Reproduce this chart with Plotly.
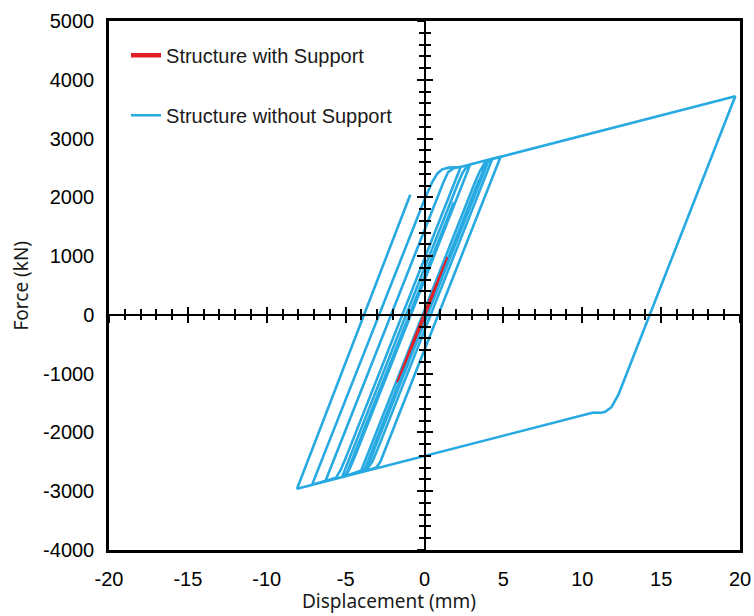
import plotly.graph_objects as go

# Force-displacement hysteresis, structure without support (mm, kN)
disp_without = [
    0.0, 1.55, -1.52,
    3.3, 3.65, 3.9, 4.08,
    -3.2, -3.5, -3.78, -4.06,
    3.2, 3.5, 3.8, 4.3,
    -3.0, -3.3, -3.6, -5.23,
    2.1, 2.4, 2.65, 2.9,
    -4.4, -4.7, -5.0,
    1.86,
    -4.5, -4.85, -5.1, -6.29,
    1.2, 1.5, 1.85, 2.3,
    -5.0, -5.3, -5.6, -7.13,
    0.06, 0.49, 0.81, 1.12, 1.54, 2.29, 4.83,
    -2.55, -2.8, -3.05, -3.84,
    3.45,
    -1.3,
    3.6, 3.9, 4.2, 19.7,
    12.3, 11.85, 11.45, 11.2, 10.7, -8.08,
    -0.9,
]
force_without = [
    0, 985, -1100,
    2176, 2400, 2570, 2641,
    -2312, -2500, -2625, -2680,
    2258, 2440, 2580, 2658,
    -2305, -2490, -2610, -2761,
    2224, 2410, 2510, 2561,
    -2400, -2590, -2745,
    1918,
    -2420, -2660, -2752, -2834,
    2258, 2430, 2495, 2520,
    -2441, -2630, -2770, -2892,
    2000, 2260, 2403, 2476, 2505, 2516, 2695,
    -2326, -2500, -2595, -2665,
    2292,
    -938,
    2380, 2575, 2645, 3720,
    -1354, -1570, -1650, -1665, -1662, -2957,
    2045,
]

# Structure with support: narrow elastic loop
disp_with = [-1.74, 0.05, 1.45, -0.05, -1.74]
force_with = [-1148, -15, 985, 15, -1148]

# Axis ticks and labels
x_ticks = [-20, -15, -10, -5, 0, 5, 10, 15, 20]
x_tick_labels = ["-20", "-15", "-10", "-5", "0", "5", "10", "15", "20"]
y_ticks = [-4000, -3000, -2000, -1000, 0, 1000, 2000, 3000, 4000, 5000]
y_tick_labels = ["-4000", "-3000", "-2000", "-1000", "0", "1000", "2000",
                 "3000", "4000", "5000"]

x_range = [-20, 20]
y_range = [-4000, 5000]

BLUE = "#27A9E1"
RED = "#E31E24"
TICK_FONT = dict(family="Liberation Sans, Arial, sans-serif", size=20, color="#000000")
TITLE_FONT = dict(family="Noto Sans, Open Sans, sans-serif", size=19, color="#1a1a1a")

fig = go.Figure()

fig.add_trace(go.Scatter(
    x=disp_without, y=force_without, mode="lines",
    line=dict(color=BLUE, width=2.6),
    name="Structure without Support", showlegend=False, hoverinfo="skip",
))
fig.add_trace(go.Scatter(
    x=disp_with, y=force_with, mode="lines",
    line=dict(color=RED, width=1.8),
    name="Structure with Support", showlegend=False, hoverinfo="skip",
))

# legend entries
fig.add_trace(go.Scatter(
    x=[None], y=[None], mode="lines", line=dict(color=RED, width=4.5),
    name="Structure with Support", legendgroup="a",
))
fig.add_trace(go.Scatter(
    x=[None], y=[None], mode="lines", line=dict(color=BLUE, width=2.6),
    name="Structure without Support", legendgroup="b",
))

# carriers for the crossing axes through the origin
for xa, ya in (("x2", "y2"), ("x3", "y3")):
    fig.add_trace(go.Scatter(x=[None], y=[None], xaxis=xa, yaxis=ya,
                             showlegend=False, hoverinfo="skip"))

box_axis = dict(showline=True, mirror=True, linecolor="black", linewidth=2.5,
                showgrid=False, zeroline=False, ticks="outside",
                tickcolor="rgba(0,0,0,0)", tickfont=TICK_FONT,
                automargin=False, tickmode="array")


def cross_x(side):
    return dict(overlaying="x", anchor="free", position=4 / 9, range=x_range,
                showline=True, linecolor="black", linewidth=2,
                showgrid=False, zeroline=False, showticklabels=False,
                automargin=False,
                ticks=side, tick0=0, dtick=5, ticklen=7, tickwidth=2,
                tickcolor="black",
                minor=dict(ticks=side, dtick=1, ticklen=4.5, tickwidth=1.6,
                           tickcolor="black", showgrid=False))


def cross_y(side):
    return dict(overlaying="y", anchor="free", position=0.5, range=y_range,
                showline=True, linecolor="black", linewidth=2,
                showgrid=False, zeroline=False, showticklabels=False,
                automargin=False,
                ticks=side, tick0=0, dtick=1000, ticklen=7, tickwidth=2,
                tickcolor="black",
                minor=dict(ticks=side, dtick=200, ticklen=5, tickwidth=1.6,
                           tickcolor="black", showgrid=False))


fig.update_layout(
    width=754, height=616,
    margin=dict(l=109, r=14, t=21, b=66, autoexpand=False),
    paper_bgcolor="white", plot_bgcolor="white",
    xaxis=dict(range=x_range, domain=[0, 1], tickvals=x_ticks,
               ticktext=x_tick_labels, ticklen=9, **box_axis),
    yaxis=dict(range=y_range, domain=[0, 1], tickvals=y_ticks,
               ticktext=y_tick_labels, ticklen=8, **box_axis),
    xaxis2=cross_x("outside"),
    xaxis3=cross_x("inside"),
    yaxis2=cross_y("outside"),
    yaxis3=cross_y("inside"),
    legend=dict(x=0.027, y=0.972, xanchor="left", yanchor="top",
                font=dict(family="Liberation Sans, Arial, sans-serif", size=20,
                          color="#1a1a1a"),
                traceorder="grouped", tracegroupgap=31,
                bgcolor="rgba(0,0,0,0)", itemwidth=30),
    showlegend=True,
    annotations=[
        dict(text="Displacement (mm)", xref="paper", yref="paper",
             x=0.443, y=-0.097, xanchor="center", yanchor="middle",
             showarrow=False, font=TITLE_FONT),
        dict(text="Force (kN)", xref="paper", yref="paper",
             x=-0.141, y=0.5, xanchor="center", yanchor="middle",
             textangle=-90, showarrow=False, font=TITLE_FONT),
    ],
)

fig.write_html("out.html")
